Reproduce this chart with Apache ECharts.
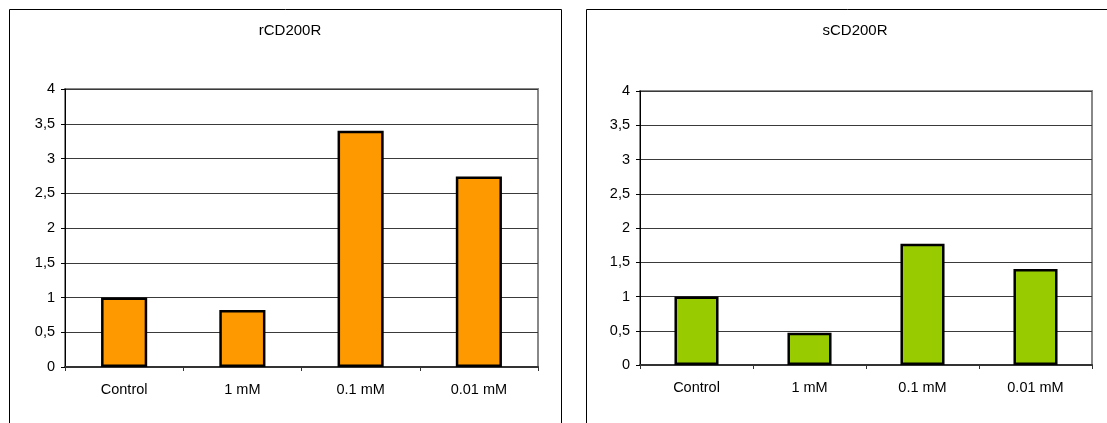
<!DOCTYPE html>
<html>
<head>
<meta charset="utf-8">
<script src="https://cdn.jsdelivr.net/npm/echarts@6/dist/echarts.min.js"></script>
<style>
  html, body { margin: 0; padding: 0; background: #fff; }
  #chart { width: 1107px; height: 423px; }
</style>
</head>
<body>
<div id="chart"></div>
<script>
// Relative expression per treatment
const categories = ['Control', '1 mM', '0.1 mM', '0.01 mM'];
const rValues = [1.0, 0.82, 3.4, 2.74];
const sValues = [1.0, 0.47, 1.77, 1.4];
const titles = ['rCD200R', 'sCD200R'];
const colors = ['#FF9900', '#99CC00'];
// y ticks every 0.5, decimal comma
const yTickLabels = ['0', '0,5', '1', '1,5', '2', '2,5', '3', '3,5', '4'];
const yStep = 0.5;

const FONT = 'Liberation Sans';
const FONT_SIZE = 14.5;

const chart = echarts.init(document.getElementById('chart'), null, { renderer: 'canvas' });

function yAxis(gridIndex) {
  return {
    type: 'value', gridIndex, min: 0, max: 4, interval: yStep,
    axisLine: { show: true, lineStyle: { color: '#000', width: 1 } },
    axisTick: { show: true, length: 4, lineStyle: { color: '#000' } },
    axisLabel: {
      margin: 10, color: '#000', fontFamily: FONT, fontSize: FONT_SIZE,
      formatter: v => yTickLabels[Math.round(v / yStep)]
    },
    splitLine: { show: true, lineStyle: { color: '#3a3a3a', width: 1 } }
  };
}

function xAxis(gridIndex) {
  return {
    type: 'category', gridIndex, data: categories,
    axisLine: { show: true, lineStyle: { color: '#333', width: 2 } },
    axisTick: { show: true, length: 4, lineStyle: { color: '#333' } },
    axisLabel: { margin: 15, color: '#000', fontFamily: FONT, fontSize: FONT_SIZE },
    splitLine: { show: false }
  };
}

function barSeries(idx, values) {
  return {
    type: 'bar', xAxisIndex: idx, yAxisIndex: idx, data: values,
    barWidth: '39%',
    itemStyle: { color: colors[idx], borderColor: '#000', borderWidth: 2.5 },
    emphasis: { disabled: true }
  };
}

chart.setOption({
  animation: false,
  backgroundColor: '#fff',
  title: [
    { text: titles[0], left: 285, top: 18, textAlign: 'center',
      textStyle: { fontFamily: FONT, fontSize: 15, fontWeight: 'normal', color: '#000' } },
    { text: titles[1], left: 850, top: 18, textAlign: 'center',
      textStyle: { fontFamily: FONT, fontSize: 15, fontWeight: 'normal', color: '#000' } }
  ],
  graphic: [
    { type: 'rect', shape: { x: 9.5, y: 9.5, width: 552, height: 440 },
      style: { fill: 'none', stroke: '#000', lineWidth: 1 }, z: 0, silent: true },
    { type: 'rect', shape: { x: 586.5, y: 9.5, width: 600, height: 440 },
      style: { fill: 'none', stroke: '#000', lineWidth: 1 }, z: 0, silent: true }
  ],
  grid: [
    { left: 65, top: 89, width: 473, height: 278, show: true,
      backgroundColor: '#fff', borderColor: '#888', borderWidth: 2 },
    { left: 640, top: 91, width: 452, height: 274, show: true,
      backgroundColor: '#fff', borderColor: '#888', borderWidth: 2 }
  ],
  xAxis: [xAxis(0), xAxis(1)],
  yAxis: [yAxis(0), yAxis(1)],
  series: [barSeries(0, rValues), barSeries(1, sValues)]
});
</script>
</body>
</html>
